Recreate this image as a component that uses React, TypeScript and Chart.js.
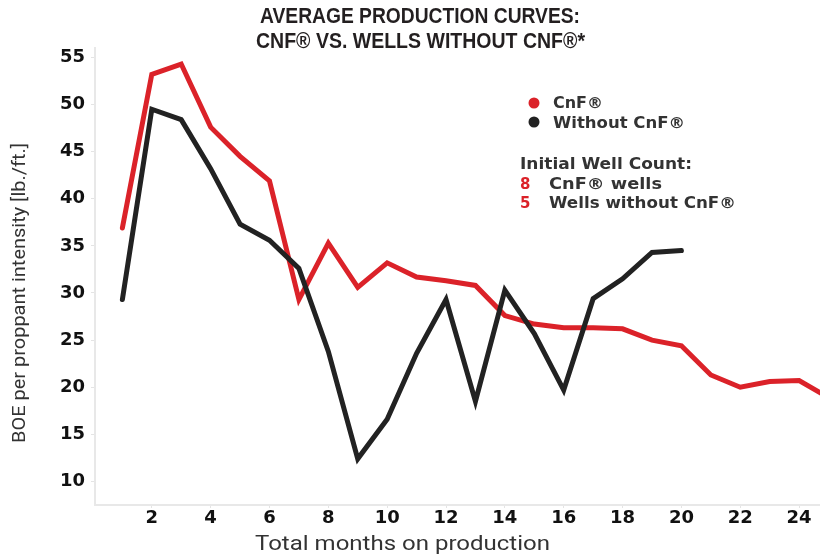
import React, { useEffect, useRef } from "react";
import { Chart, registerables } from "chart.js";

Chart.register(...registerables);

// ---- data ----
const months = [1, 2, 3, 4, 5, 6, 7, 8, 9, 10, 11, 12, 13, 14, 15, 16, 17, 18, 19, 20, 21, 22, 23, 24, 25];
const cnfValues = [36.9, 53.2, 54.3, 47.6, 44.5, 41.9, 29.3, 35.3, 30.6, 33.2, 31.7, 31.3, 30.8, 27.6, 26.7, 26.3, 26.3, 26.2, 25.0, 24.4, 21.3, 20.0, 20.6, 20.7, 18.9];
const withoutValues = [29.3, 49.5, 48.4, 43.2, 37.3, 35.6, 32.6, 23.8, 12.4, 16.6, 23.6, 29.3, 18.5, 30.3, 25.7, 19.7, 29.4, 31.5, 34.3, 34.5];
const xTicks = [2, 4, 6, 8, 10, 12, 14, 16, 18, 20, 22, 24];
const yTicks = [10, 15, 20, 25, 30, 35, 40, 45, 50, 55];
const titleLines = ["AVERAGE PRODUCTION CURVES:", "CNF® VS. WELLS WITHOUT CNF®*"];
const seriesLabels = ["CnF®", "Without CnF®"];
const wellCountHeading = "Initial Well Count:";
const wellCounts = ["8", "5"];
const wellCountLabels = ["CnF® wells", "Wells without CnF®"];
const xAxisTitle = "Total months on production";
const yAxisTitle = "BOE per proppant intensity [lb./ft.]";

const RED = "#db2229";
const BLACK = "#222222";
const TEXT = "#333333";

function drawText(
  ctx: CanvasRenderingContext2D,
  text: string,
  x: number,
  y: number,
  font: string,
  color: string,
  align: CanvasTextAlign,
  targetWidth?: number,
  rotate?: number
) {
  ctx.save();
  ctx.font = font;
  ctx.fillStyle = color;
  ctx.textBaseline = "middle";
  ctx.textAlign = align;
  const w = ctx.measureText(text).width;
  const sx = targetWidth ? targetWidth / w : 1;
  ctx.translate(x, y);
  if (rotate) ctx.rotate(rotate);
  ctx.scale(sx, 1);
  ctx.fillText(text, 0, 0);
  ctx.restore();
}

const annotationPlugin = {
  id: "annotations",
  afterDraw(chart: any) {
    const ctx: CanvasRenderingContext2D = chart.ctx;
    const titleFont = 'bold 22px "Liberation Sans", Arial, sans-serif';
    drawText(ctx, titleLines[0], 420, 17, titleFont, "#231f20", "center", 320);
    drawText(ctx, titleLines[1], 420.5, 42, titleFont, "#231f20", "center", 329);

    const legFont = 'bold 15px "DejaVu Sans", sans-serif';
    // legend dots
    ctx.save();
    ctx.fillStyle = RED;
    ctx.beginPath();
    ctx.arc(534, 103, 5.5, 0, Math.PI * 2);
    ctx.fill();
    ctx.fillStyle = BLACK;
    ctx.beginPath();
    ctx.arc(534, 122, 5.5, 0, Math.PI * 2);
    ctx.fill();
    ctx.restore();
    drawText(ctx, seriesLabels[0], 553, 104, legFont, TEXT, "left", 50);
    drawText(ctx, seriesLabels[1], 553, 124, legFont, TEXT, "left", 132);

    drawText(ctx, wellCountHeading, 520, 165, legFont, TEXT, "left", 172);
    drawText(ctx, wellCounts[0], 520, 185, legFont, RED, "left");
    drawText(ctx, wellCountLabels[0], 549, 185, legFont, TEXT, "left", 113);
    drawText(ctx, wellCounts[1], 520, 204, legFont, RED, "left");
    drawText(ctx, wellCountLabels[1], 549, 204, legFont, TEXT, "left", 187);

    // axis titles
    drawText(ctx, xAxisTitle, 402.5, 545, '20px Roboto, "Liberation Sans", sans-serif', TEXT, "center", 295);
    drawText(ctx, yAxisTitle, 20, 293, '19px Roboto, "Liberation Sans", sans-serif', TEXT, "center", 300, -Math.PI / 2);
  },
};

export default function App() {
  const canvasRef = useRef<HTMLCanvasElement | null>(null);

  useEffect(() => {
    document.body.style.margin = "0";
    const canvas = canvasRef.current;
    if (!canvas) return;
    const chart = new Chart(canvas, {
      type: "line",
      data: {
        datasets: [
          {
            label: seriesLabels[1],
            data: withoutValues.map((v, i) => ({ x: months[i], y: v })),
            borderColor: BLACK,
            backgroundColor: BLACK,
            borderWidth: 5,
            pointRadius: 0,
            tension: 0,
            borderJoinStyle: "miter",
            borderCapStyle: "round",
            order: 0,
          },
          {
            label: seriesLabels[0],
            data: cnfValues.map((v, i) => ({ x: months[i], y: v })),
            borderColor: RED,
            backgroundColor: RED,
            borderWidth: 5,
            pointRadius: 0,
            tension: 0,
            borderJoinStyle: "miter",
            borderCapStyle: "round",
            order: 1,
          },
        ],
      },
      options: {
        animation: false,
        responsive: false,
        devicePixelRatio: 1,
        layout: { padding: { top: 48, left: 0, right: 0, bottom: 0 } },
        plugins: {
          legend: { display: false },
          title: { display: false },
          tooltip: { enabled: false },
        },
        scales: {
          x: {
            type: "linear",
            min: 0.07,
            max: 24.71,
            afterBuildTicks: (s: any) => {
              s.ticks = xTicks.map((v) => ({ value: v }));
            },
            afterFit: (s: any) => {
              s.height = 54;
            },
            grid: { drawOnChartArea: false, drawTicks: true, tickLength: 3, color: "#e4e4e4" },
            border: { color: "#e8e8e8", width: 2 },
            ticks: {
              font: { family: "DejaVu Sans", weight: "bold", size: 18 },
              color: "#111111",
              padding: 0,
              maxRotation: 0,
              autoSkip: false,
            },
          },
          y: {
            type: "linear",
            min: 7.5,
            max: 56,
            afterBuildTicks: (s: any) => {
              s.ticks = yTicks.map((v) => ({ value: v }));
            },
            afterFit: (s: any) => {
              s.width = 95;
            },
            grid: { drawOnChartArea: false, drawTicks: true, tickLength: 4, color: "#e4e4e4" },
            border: { color: "#e8e8e8", width: 2 },
            ticks: {
              font: { family: "DejaVu Sans", weight: "bold", size: 18 },
              color: "#111111",
              padding: 6,
              autoSkip: false,
            },
          },
        },
      },
      plugins: [annotationPlugin],
    });
    return () => chart.destroy();
  }, []);

  return (
    <div style={{ position: "absolute", left: 0, top: 0, width: 820, height: 559, background: "#fff" }}>
      <canvas ref={canvasRef} width={820} height={559} style={{ display: "block" }} />
    </div>
  );
}
